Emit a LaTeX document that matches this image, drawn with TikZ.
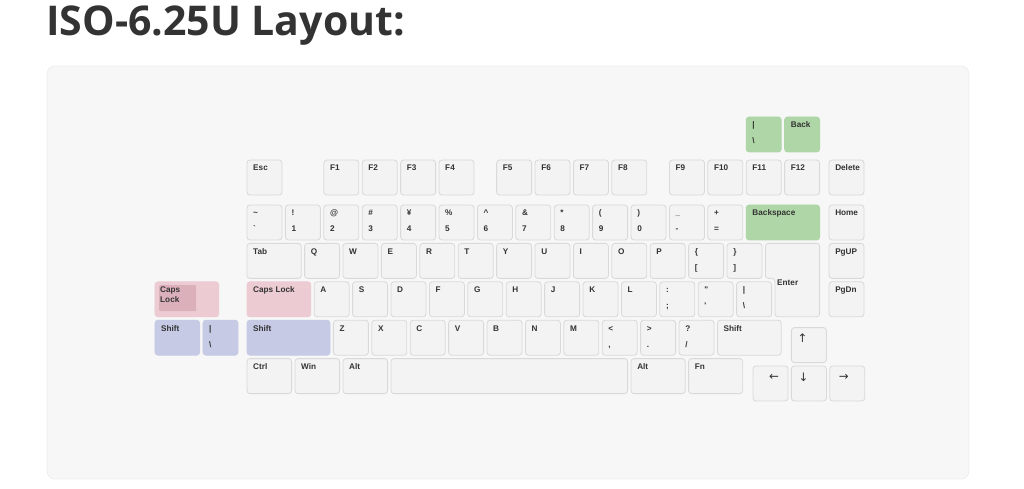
\documentclass[tikz,border=0pt]{standalone}
\usepackage{fontspec}
\usetikzlibrary{positioning}
\newfontfamily\titlefont{Open Sans}
\newfontfamily\keyfont{Liberation Sans}
\newfontfamily\arrowfont{DejaVu Sans}
\definecolor{panelfill}{HTML}{F7F7F7}
\definecolor{panelline}{HTML}{EEEEEE}
\definecolor{keyfill}{HTML}{F3F3F3}
\definecolor{keyline}{HTML}{D9D9D9}
\definecolor{ink}{HTML}{333333}
\definecolor{altgreen}{HTML}{AED6A6}
\definecolor{altpink}{HTML}{ECCCD2}
\definecolor{pinkdark}{HTML}{DCB0BA}
\definecolor{altblue}{HTML}{C6CAE4}

\begin{document}
\begin{tikzpicture}[
    x=0.03cm, y=-0.03cm,
    node distance=0.102cm,
    keyface/.style={draw=keyline, fill=keyfill, line width=0.7pt, rounded corners=0.09cm},
    key/.style={keyface, rectangle, inner sep=0pt, outer sep=0pt, minimum width=1.05cm, minimum height=1.05cm},
    kw/.style={minimum width=#1*1.152cm-0.102cm},
    greenkey/.style={key, fill=altgreen, draw=altgreen},
    pinkkey/.style={key, fill=altpink, draw=altpink},
    bluekey/.style={key, fill=altblue, draw=altblue},
    keytext/.style={anchor=base west, inner sep=0pt, text=ink, font=\keyfont\bfseries\fontsize{7}{8.5}\selectfont},
    lt/.style={label={[keytext, xshift=0.18cm, yshift=0.195cm]180:{#1}}},
    lb/.style={label={[keytext, xshift=0.18cm, yshift=-0.285cm]180:{#1}}},
    ar/.style 2 args={label={[keytext, anchor=center, font=\arrowfont\fontsize{10}{12}\selectfont, xshift=#2, yshift=0.195cm]180:{#1}}},
    title/.style={anchor=base west, inner sep=0pt, text=ink, font=\titlefont\bfseries\fontsize{35}{40}\selectfont},
    panel/.style={draw=panelline, fill=panelfill, line width=0.7pt, rounded corners=0.24cm}
]
    \useasboundingbox (0,0) rectangle (1024,489);

    % Titulo y fondo
    \draw[panel] (47,66) rectangle (969,479);
    \node[title] (title) at (46,36) {ISO-6.25U Layout:};

    % Fila de funciones
    \node[key, lt=Esc, anchor=north west] (esc) at (247,160) {};
    \node[key, lt=F1, right=1.254cm of esc] (f1) {};
    \node[key, lt=F2, right=of f1] (f2) {};
    \node[key, lt=F3, right=of f2] (f3) {};
    \node[key, lt=F4, right=of f3] (f4) {};
    \node[key, lt=F5, right=0.678cm of f4] (f5) {};
    \node[key, lt=F6, right=of f5] (f6) {};
    \node[key, lt=F7, right=of f6] (f7) {};
    \node[key, lt=F8, right=of f7] (f8) {};
    \node[key, lt=F9, right=0.678cm of f8] (f9) {};
    \node[key, lt=F10, right=of f9] (f10) {};
    \node[key, lt=F11, right=of f10] (f11) {};
    \node[key, lt=F12, right=of f11] (f12) {};
    \node[key, lt=Delete, right=0.282cm of f12] (del) {};

    % Teclas alternativas (arriba)
    \node[greenkey, lt=|, lb=\textbackslash, above=0.24cm of f11] (altbsl) {};
    \node[greenkey, lt=Back, above=0.24cm of f12] (altback) {};

    % Fila de numeros
    \node[key, lt=\textasciitilde, lb=`, below=0.3cm of esc] (grave) {};
    \node[key, lt=!, lb=1, right=of grave] (n1) {};
    \node[key, lt=@, lb=2, right=of n1] (n2) {};
    \node[key, lt=\#, lb=3, right=of n2] (n3) {};
    \node[key, lt=¥, lb=4, right=of n3] (n4) {};
    \node[key, lt=\%, lb=5, right=of n4] (n5) {};
    \node[key, lt=\textasciicircum, lb=6, right=of n5] (n6) {};
    \node[key, lt=\&, lb=7, right=of n6] (n7) {};
    \node[key, lt=*, lb=8, right=of n7] (n8) {};
    \node[key, lt={(}, lb=9, right=of n8] (n9) {};
    \node[key, lt={)}, lb=0, right=of n9] (n0) {};
    \node[key, lt=\_, lb=-, right=of n0] (minus) {};
    \node[key, lt=+, lb={=}, right=of minus] (equal) {};
    \node[greenkey, kw=2, lt=Backspace, right=of equal] (bksp) {};
    \node[key, lt=Home, right=0.282cm of bksp] (home) {};

    % Fila QWERTY
    \node[key, kw=1.5, lt=Tab, below=of grave.south west, anchor=north west] (tab) {};
    \node[key, lt=Q, right=of tab] (q) {};
    \node[key, lt=W, right=of q] (w) {};
    \node[key, lt=E, right=of w] (e) {};
    \node[key, lt=R, right=of e] (r) {};
    \node[key, lt=T, right=of r] (t) {};
    \node[key, lt=Y, right=of t] (y) {};
    \node[key, lt=U, right=of y] (u) {};
    \node[key, lt=I, right=of u] (i) {};
    \node[key, lt=O, right=of i] (o) {};
    \node[key, lt=P, right=of o] (p) {};
    \node[key, lt=\{, lb={[}, right=of p] (lbrc) {};
    \node[key, lt=\}, lb={]}, right=of lbrc] (rbrc) {};
    \node[key, lt=PgUP, below=of home] (pgup) {};

    % Fila base
    \node[pinkkey, kw=1.75, lt=Caps Lock, below=of tab.south west, anchor=north west] (caps) {};
    \node[key, lt=A, right=of caps] (a) {};
    \node[key, lt=S, right=of a] (s) {};
    \node[key, lt=D, right=of s] (d) {};
    \node[key, lt=F, right=of d] (f) {};
    \node[key, lt=G, right=of f] (g) {};
    \node[key, lt=H, right=of g] (h) {};
    \node[key, lt=J, right=of h] (j) {};
    \node[key, lt=K, right=of j] (k) {};
    \node[key, lt=L, right=of k] (l) {};
    \node[key, lt=:, lb=;, right=of l] (semi) {};
    \node[key, lt=", lb=', right=of semi] (quote) {};
    \node[key, lt=|, lb=\textbackslash, right=of quote] (bsl) {};
    \node[key, lt=PgDn, below=of pgup] (pgdn) {};

    % Enter ISO
    \draw[keyface] ([xshift=0.102cm]rbrc.north east) -- (bksp.east |- rbrc.north)
        -- (bksp.east |- bsl.south) -- ([xshift=0.102cm]bsl.south east)
        -- ([xshift=0.102cm]bsl.east |- rbrc.south) -- ([xshift=0.102cm]rbrc.south east) -- cycle;
    \node[keytext] (enter) at (777,286) {Enter};

    % Fila de mayusculas
    \node[bluekey, kw=2.25, lt=Shift, below=of caps.south west, anchor=north west] (lshift) {};
    \node[key, lt=Z, right=of lshift] (z) {};
    \node[key, lt=X, right=of z] (x) {};
    \node[key, lt=C, right=of x] (c) {};
    \node[key, lt=V, right=of c] (v) {};
    \node[key, lt=B, right=of v] (b) {};
    \node[key, lt=N, right=of b] (n) {};
    \node[key, lt=M, right=of n] (m) {};
    \node[key, lt=<, lb={,}, right=of m] (comma) {};
    \node[key, lt=>, lb=., right=of comma] (period) {};
    \node[key, lt=?, lb=/, right=of period] (slash) {};
    \node[key, kw=1.75, lt=Shift, right=of slash] (rshift) {};

    % Fila inferior
    \node[key, kw=1.25, lt=Ctrl, below=of lshift.south west, anchor=north west] (ctrl) {};
    \node[key, kw=1.25, lt=Win, right=of ctrl] (win) {};
    \node[key, kw=1.25, lt=Alt, right=of win] (lalt) {};
    \node[key, kw=6.25, right=of lalt] (space) {};
    \node[key, kw=1.5, lt=Alt, right=of space] (ralt) {};
    \node[key, kw=1.5, lt=Fn, right=of ralt] (fn) {};

    % Flechas
    \node[key, ar={←}{0.63cm}, anchor=north west] (aleft) at (753,366) {};
    \node[key, ar={↓}{0.36cm}, right=of aleft] (adown) {};
    \node[key, ar={→}{0.42cm}, right=of adown] (aright) {};
    \node[key, ar={↑}{0.33cm}, above=of adown] (aup) {};

    % Teclas alternativas (izquierda)
    \node[pinkkey, kw=1.75, left=0.846cm of caps] (altcaps) {};
    \node[fill=pinkdark, rounded corners=0.03cm, inner sep=0pt, minimum width=1.11cm, minimum height=0.78cm, anchor=north west] (altcapsmark) at ([shift={(4,3)}]altcaps.north west) {};
    \node[keytext, anchor=north west, align=left] (altcapstext) at ([shift={(5,4.5)}]altcaps.north west) {Caps\\Lock};
    \node[bluekey, lt=|, lb=\textbackslash, left=0.27cm of lshift] (altbar) {};
    \node[bluekey, kw=1.25, lt=Shift, left=of altbar] (altshift) {};
\end{tikzpicture}
\end{document}
